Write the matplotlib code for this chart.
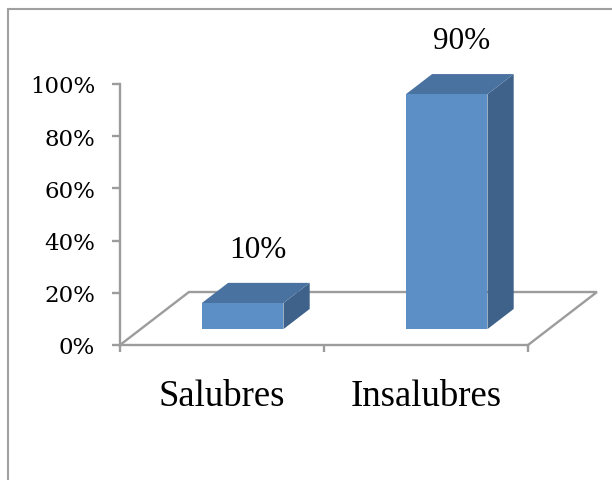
import matplotlib
matplotlib.use("Agg")
import matplotlib.pyplot as plt
from matplotlib.patches import Polygon, Rectangle
from matplotlib.ticker import FuncFormatter

categories = ["Salubres", "Insalubres"]
values = [10, 90]
value_labels = ["10%", "90%"]
yticks = [0, 20, 40, 60, 80, 100]

W, H = 612, 481
fig = plt.figure(figsize=(W / 100, H / 100), dpi=100)

# chart frame
fig.patches.append(Rectangle((8 / W, -0.1), 1.2, (H - 10) / H + 0.1, transform=fig.transFigure,
                             fill=False, edgecolor="#A0A0A0", linewidth=1.5, zorder=0))

# axes occupies the front plane of the 3D box
left, right, top, bottom = 120, 528, 85, 346
ax = fig.add_axes([left / W, (H - bottom) / H, (right - left) / W, (bottom - top) / H])
ax.set_xlim(0, len(categories))
ax.set_ylim(0, 100)
ax.patch.set_visible(False)

grey = "#9C9C9C"
lw = 1.7
for s in ["top", "right"]:
    ax.spines[s].set_visible(False)
for s in ["left", "bottom"]:
    ax.spines[s].set_color(grey)
    ax.spines[s].set_linewidth(lw)

ax.set_yticks(yticks)
ax.yaxis.set_major_formatter(FuncFormatter(lambda v, p: f"{int(v)}%"))
ax.tick_params(axis="y", direction="out", length=6, width=lw, color=grey, pad=12,
               labelsize=16.5, labelfontfamily="DejaVu Serif")
ax.set_xticks(range(len(categories) + 1))
ax.set_xticklabels([])
ax.tick_params(axis="x", which="major", direction="out", length=5, width=lw, color=grey)
ax.set_xticks([i + 0.5 for i in range(len(categories))], minor=True)
ax.set_xticklabels(categories, minor=True, fontsize=26.5, family="Liberation Serif")
ax.tick_params(axis="x", which="minor", length=0, pad=24)

# depth vector of the floor (data units)
Dx, Dy = 0.338, 20.3
n = len(categories)
floor_x = [0, Dx, n + Dx, n]
floor_y = [0, Dy, Dy, 0]
ax.plot(floor_x, floor_y, color=grey, lw=lw, clip_on=False, zorder=1, solid_joinstyle="miter")

# bars
t0, t1 = 0.30, 0.68
bw = 0.40
front_c, top_c, side_c = "#5B8FC6", "#4A72A0", "#3F628A"
ddx, ddy = (t1 - t0) * Dx, (t1 - t0) * Dy
for i, (v, lab) in enumerate(zip(values, value_labels)):
    c = i + 0.5
    x0 = c - bw / 2 + t0 * Dx
    b = t0 * Dy
    side = [(x0 + bw, b), (x0 + bw + ddx, b + ddy), (x0 + bw + ddx, b + ddy + v), (x0 + bw, b + v)]
    topf = [(x0, b + v), (x0 + bw, b + v), (x0 + bw + ddx, b + v + ddy), (x0 + ddx, b + v + ddy)]
    front = [(x0, b), (x0 + bw, b), (x0 + bw, b + v), (x0, b + v)]
    for pts, col in [(side, side_c), (topf, top_c), (front, front_c)]:
        ax.add_patch(Polygon(pts, closed=True, facecolor=col, edgecolor="none",
                             clip_on=False, zorder=3))
    ax.text(x0 + bw / 2 + ddx / 2 + 0.01, b + ddy + v + 12.8, lab, ha="center", va="center",
            fontsize=22.5, family="Liberation Serif", clip_on=False)

fig.savefig("out.png", dpi=100)
